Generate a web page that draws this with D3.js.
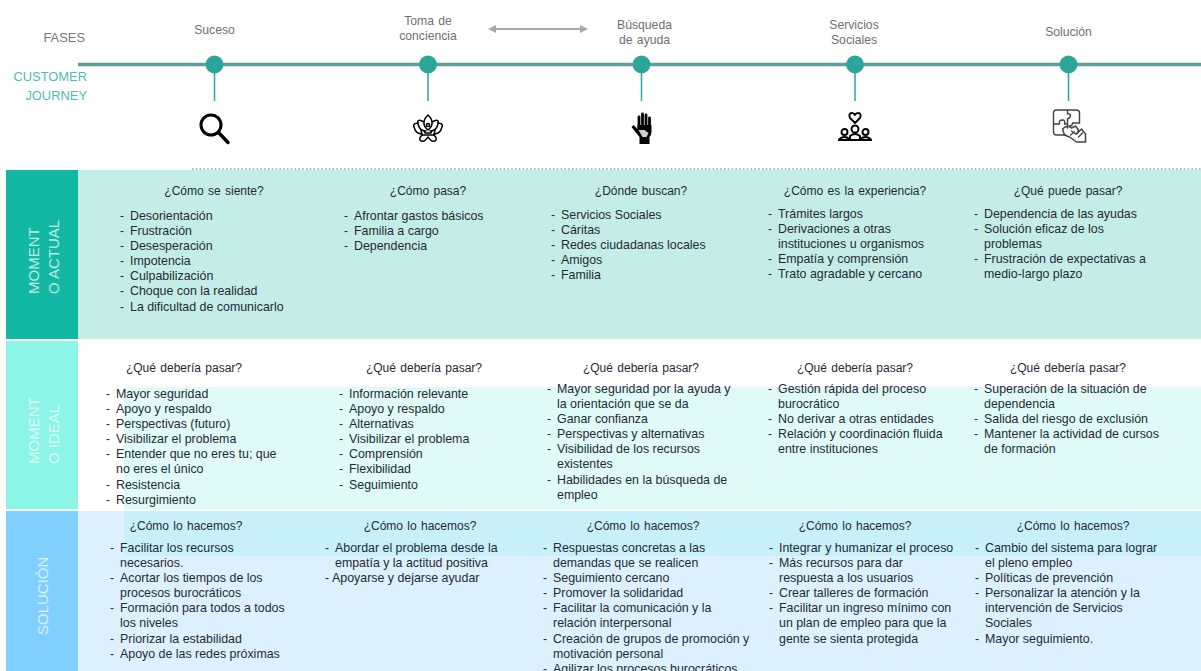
<!DOCTYPE html>
<html lang="es">
<head>
<meta charset="utf-8">
<title>Customer journey</title>
<script src="https://cdnjs.cloudflare.com/ajax/libs/d3/7.8.5/d3.min.js"></script>
<style>
  html, body { margin: 0; padding: 0; background: #fff; overflow: hidden; }
  svg { display: block; }
  text { font-family: "Liberation Sans", Arial, sans-serif; }
</style>
</head>
<body>
<script>
'use strict';

// Data
const phases = ['Suceso', 'Toma de\nconciencia', 'Búsqueda\nde ayuda', 'Servicios\nSociales', 'Solución'];

const rowNames = ['MOMENT\nO ACTUAL', 'MOMENT\nO IDEAL', 'SOLUCIÓN'];

const actualTitles = ['¿Cómo se siente?', '¿Cómo pasa?', '¿Dónde buscan?', '¿Cómo es la experiencia?', '¿Qué puede pasar?'];
const idealTitles = ['¿Qué debería pasar?', '¿Qué debería pasar?', '¿Qué debería pasar?', '¿Qué debería pasar?', '¿Qué debería pasar?'];
const solucionTitles = ['¿Cómo lo hacemos?', '¿Cómo lo hacemos?', '¿Cómo lo hacemos?', '¿Cómo lo hacemos?', '¿Cómo lo hacemos?'];

const actualItems = [
  ['Desorientación', 'Frustración', 'Desesperación', 'Impotencia', 'Culpabilización', 'Choque con la realidad', 'La dificultad de comunicarlo'],
  ['Afrontar gastos básicos', 'Familia a cargo', 'Dependencia'],
  ['Servicios Sociales', 'Cáritas', 'Redes ciudadanas locales', 'Amigos', 'Familia'],
  ['Trámites largos', 'Derivaciones a otras\ninstituciones u organismos', 'Empatía y comprensión', 'Trato agradable y cercano'],
  ['Dependencia de las ayudas', 'Solución eficaz de los\nproblemas', 'Frustración de expectativas a\nmedio-largo plazo']
];

const idealItems = [
  ['Mayor seguridad', 'Apoyo y respaldo', 'Perspectivas (futuro)', 'Visibilizar el problema', 'Entender que no eres tu; que\nno eres el único', 'Resistencia', 'Resurgimiento'],
  ['Información relevante', 'Apoyo y respaldo', 'Alternativas', 'Visibilizar el problema', 'Comprensión', 'Flexibilidad', 'Seguimiento'],
  ['Mayor seguridad por la ayuda y\nla orientación que se da', 'Ganar confianza', 'Perspectivas y alternativas', 'Visibilidad de los recursos\nexistentes', 'Habilidades en la búsqueda de\nempleo'],
  ['Gestión rápida del proceso\nburocrático', 'No derivar a otras entidades', 'Relación y coordinación fluida\nentre instituciones'],
  ['Superación de la situación de\ndependencia', 'Salida del riesgo de exclusión', 'Mantener la actividad de cursos\nde formación']
];

const solucionItems = [
  ['Facilitar los recursos\nnecesarios.', 'Acortar los tiempos de los\nprocesos burocráticos', 'Formación para todos a todos\nlos niveles', 'Priorizar la estabilidad', 'Apoyo de las redes próximas'],
  ['Abordar el problema desde la\nempatía y la actitud positiva', 'Apoyarse y dejarse ayudar'],
  ['Respuestas concretas a las\ndemandas que se realicen', 'Seguimiento cercano', 'Promover la solidaridad', 'Facilitar la comunicación y la\nrelación interpersonal', 'Creación de grupos de promoción y\nmotivación personal', 'Agilizar los procesos burocráticos'],
  ['Integrar y humanizar el proceso', 'Más recursos para dar\nrespuesta a los usuarios', 'Crear talleres de formación', 'Facilitar un ingreso mínimo con\nun plan de empleo para que la\ngente se sienta protegida'],
  ['Cambio del sistema para lograr\nel pleno empleo', 'Políticas de prevención', 'Personalizar la atención y la\nintervención de Servicios\nSociales', 'Mayor seguimiento.']
];

// Layout
const width = 1201;
const height = 671;
const lineH = 15.15;

const rows = [
  {
    top: 170, bottom: 339, side: '#12b8a3', panel: '#c4ede8',
    titles: actualTitles, items: actualItems, titleY: 190.5,
    titleX: [214, 428, 641, 855, 1068],
    textX: [130, 354, 561, 778, 984],
    firstY: [216, 216, 215, 214, 214],
    nameX: [39, 59], nameY: 294
  },
  {
    top: 341, bottom: 509, side: '#8cf6e6', panel: '#ffffff',
    band: { x: 124, y0: 387, y1: 509, fill: '#e0fbf7' },
    titles: idealTitles, items: idealItems, titleY: 367.5,
    titleX: [184, 424, 641, 855, 1068],
    textX: [116, 349, 557, 778, 984],
    firstY: [394, 394, 389, 389, 389],
    nameX: [39, 59], nameY: 464
  },
  {
    top: 511, bottom: 671, side: '#80cfff', panel: '#dcf1fd',
    band: { x: 124, y0: 511, y1: 556, fill: '#c8f0f9' },
    titles: solucionTitles, items: solucionItems, titleY: 525.5,
    titleX: [186, 420, 643, 855, 1073],
    textX: [120, 335, 553, 779, 985],
    firstY: [548, 548, 548, 548, 548],
    nameX: [48], nameY: 635
  }
];

// Phase label tweaks, the source slide is not quite regular
const phaseLabelY = [34, 25, 29, 29, 36];
const phaseLabelDx = [0, 0, 3, -1, 0];
const tightItems = ['Apoyarse y dejarse ayudar'];

const svg = d3.select('body').append('svg')
  .attr('width', width)
  .attr('height', height)
  .attr('viewBox', `0 0 ${width} ${height}`);

// Phase positions
const phaseX = d3.scaleLinear().domain([0, phases.length - 1]).range([214.5, 1068.5]);

// Row backgrounds
const rowG = svg.selectAll('g.row').data(rows).enter().append('g').attr('class', 'row');

rowG.append('rect')
  .attr('x', 78).attr('y', d => d.top)
  .attr('width', width - 78).attr('height', d => d.bottom - d.top)
  .attr('fill', d => d.panel);

rowG.filter(d => d.band).append('rect')
  .attr('x', d => d.band.x).attr('y', d => d.band.y0)
  .attr('width', d => width - d.band.x).attr('height', d => d.band.y1 - d.band.y0)
  .attr('fill', d => d.band.fill);

rowG.append('rect')
  .attr('x', 6).attr('y', d => d.top)
  .attr('width', 72).attr('height', d => d.bottom - d.top)
  .attr('fill', d => d.side);

// Rotated row names
rowG.each(function (d, i) {
  d3.select(this).selectAll('text.name').data(rowNames[i].split('\n')).enter().append('text')
    .attr('class', 'name')
    .attr('transform', (_d, j) => `translate(${d.nameX[j]},${d.nameY}) rotate(-90)`)
    .attr('fill', 'rgba(255,255,255,0.72)')
    .style('font-size', '15px')
    .text(p => p);
});

// Cell text
rowG.each(function (row) {
  const g = d3.select(this);

  g.selectAll('text.title').data(row.titles).enter().append('text')
    .attr('class', 'title')
    .attr('x', (_d, i) => row.titleX[i])
    .attr('y', row.titleY + 4)
    .attr('text-anchor', 'middle')
    .attr('fill', '#1f2a36')
    .style('font-size', '12px')
    .style('word-spacing', '1px')
    .text(d => d);

  row.items.forEach((list, col) => {
    let y = row.firstY[col] + 3.7;
    list.forEach(item => {
      const tight = tightItems.includes(item) ? 3 : 0;
      g.append('text')
        .attr('x', row.textX[col] - 10).attr('y', y)
        .attr('fill', '#1f2a36').style('font-size', '12px')
        .text('-');
      item.split('\n').forEach(line => {
        g.append('text')
          .attr('x', row.textX[col] - tight).attr('y', y)
          .attr('fill', '#1f2a36').style('font-size', '12.4px')
          .text(line);
        y += lineH;
      });
    });
  });
});

// Dotted rule above the table
svg.append('line')
  .attr('x1', 192).attr('x2', width).attr('y1', 169).attr('y2', 169)
  .attr('stroke', '#999').attr('stroke-width', 1.5).attr('stroke-dasharray', '1.5 2.3');

// Side labels
const sideLabels = [
  { t: 'FASES', x: 85, y: 42, fill: '#777777' },
  { t: 'CUSTOMER', x: 87, y: 81, fill: '#4fbdb6' },
  { t: 'JOURNEY', x: 87, y: 100, fill: '#4fbdb6' }
];
svg.selectAll('text.side').data(sideLabels).enter().append('text')
  .attr('class', 'side')
  .attr('x', d => d.x).attr('y', d => d.y)
  .attr('text-anchor', 'end')
  .attr('fill', d => d.fill)
  .style('font-size', '12.9px')
  .text(d => d.t);

// Timeline
svg.append('line')
  .attr('x1', 78).attr('x2', width).attr('y1', 64.5).attr('y2', 64.5)
  .attr('stroke', '#5f9e98').attr('stroke-width', 3.5);

const phaseG = svg.selectAll('g.phase').data(phases).enter().append('g')
  .attr('class', 'phase')
  .attr('transform', (_d, i) => `translate(${phaseX(i)},0)`);

phaseG.append('line')
  .attr('y1', 64).attr('y2', 101)
  .attr('stroke', '#2ca59b').attr('stroke-width', 1.5);

phaseG.append('circle')
  .attr('cy', 64.5).attr('r', 9)
  .attr('fill', '#2ca59b');

phaseG.each(function (d, i) {
  d3.select(this).selectAll('text').data(d.split('\n')).enter().append('text')
    .attr('x', phaseLabelDx[i])
    .attr('y', (_p, j) => phaseLabelY[i] + j * lineH)
    .attr('text-anchor', 'middle')
    .attr('fill', '#6f6f6f')
    .style('font-size', '12.2px')
    .style('word-spacing', '1px')
    .text(p => p);
});

// Double arrow between phases
svg.append('line')
  .attr('x1', 492).attr('x2', 584).attr('y1', 29).attr('y2', 29)
  .attr('stroke', '#a8a8a8').attr('stroke-width', 2);
svg.append('path').attr('d', 'M488,29 L496,25 L496,33 Z').attr('fill', '#a8a8a8');
svg.append('path').attr('d', 'M588,29 L580,25 L580,33 Z').attr('fill', '#a8a8a8');

// Icons
const iconG = svg.append('g').attr('fill', 'none').attr('stroke', '#000').attr('stroke-linecap', 'round').attr('stroke-linejoin', 'round');

// Magnifier
const loupe = iconG.append('g').attr('transform', `translate(${phaseX(0)},128)`);
loupe.append('circle').attr('cx', -3.5).attr('cy', -3).attr('r', 10).attr('stroke-width', 3);
loupe.append('line').attr('x1', 4).attr('y1', 4.5).attr('x2', 13.5).attr('y2', 14.5).attr('stroke-width', 3.4);

// Lotus
const lotus = iconG.append('g').attr('transform', `translate(${phaseX(1)},129)`).attr('stroke-width', 1.5);
lotus.append('path').attr('d', 'M0,-14 C-5,-9 -6,-4 0,1 C6,-4 5,-9 0,-14 Z');
lotus.append('path').attr('d', 'M-4,-7 C-9,-10 -11,-9 -10,-5 C-9,-1 -6,2 -2,2');
lotus.append('path').attr('d', 'M4,-7 C9,-10 11,-9 10,-5 C9,-1 6,2 2,2');
lotus.append('path').attr('d', 'M-10,-6 C-14,-6 -15,-4 -14,-2 C-13,2 -10,5 -6,5');
lotus.append('path').attr('d', 'M10,-6 C14,-6 15,-4 14,-2 C13,2 10,5 6,5');
lotus.append('path').attr('d', 'M-7,1 L-6,6 L6,6 L7,1 M-4,2 L-3,4 L3,4 L4,2');
lotus.append('path').attr('d', 'M-6,6 C-10,10 -8,13 -4,12 C-2,11 -1,9 0,8 C1,9 2,11 4,12 C8,13 10,10 6,6');
lotus.append('circle').attr('cx', 0).attr('cy', -4).attr('r', 1.6);

// Raised hand
const hand = svg.append('g').attr('transform', `translate(${phaseX(2)},128)`);
hand.selectAll('line').data([-2.5, 1, 4.5, 8]).enter().append('line')
  .attr('x1', d => d).attr('x2', d => d)
  .attr('y1', (_d, i) => [-11, -14, -13, -10][i]).attr('y2', 0)
  .attr('stroke', '#000').attr('stroke-width', 2.8).attr('stroke-linecap', 'round');
hand.append('path')
  .attr('fill', '#000')
  .attr('d', 'M-4,-3 L-4,1 L-8,-3 L-10,-1 L-2,9 L-2,16 L8,16 L8,9 Q10,7 10,4 L10,-3 Z');
hand.append('path').attr('fill', '#cfcfcf').attr('d', 'M-3,2 L3,2 L7,5 L5,9 L1,9 Z');

// People with heart
const people = iconG.append('g').attr('transform', `translate(${phaseX(3)},126)`).attr('stroke-width', 1.9);
people.append('path').attr('d', 'M0,-3 L-5,-8 Q-7,-13 -3,-13 Q-1,-13 0,-11 Q1,-13 3,-13 Q7,-13 5,-8 Z');
[[-10.5, 6, 3], [0, 3, 3.5], [10.5, 6, 3]].forEach(p => {
  people.append('circle').attr('cx', p[0]).attr('cy', p[1]).attr('r', p[2]);
  people.append('path').attr('d', `M${p[0] - 5},14 L${p[0] - 5},${p[1] + 7} Q${p[0]},${p[1] + 3} ${p[0] + 5},${p[1] + 7} L${p[0] + 5},14`);
});
people.append('line').attr('x1', -16).attr('x2', 16).attr('y1', 14).attr('y2', 14).attr('stroke-width', 2.2);

// Puzzle with hand
const puzzle = iconG.append('g').attr('transform', `translate(${phaseX(4)},126)`).attr('stroke', '#444').attr('stroke-width', 1.4);
puzzle.append('path').attr('d', 'M-3,9 L-12,9 Q-15,9 -15,6 L-15,-13 Q-15,-16 -12,-16 L8,-16 Q11,-16 11,-13 L11,-3');
puzzle.append('path').attr('d', 'M-15,-2 L-9,-2 Q-10,-6 -6,-6 Q-3,-6 -4,-2 L-1,-2 L-1,-7 Q2,-8 2,-11 Q0,-13 -1,-12 L-1,-16');
puzzle.append('path').attr('d', 'M-1,-2 L-1,2 M11,-3 L4,-3 Q4,0 1,0');
puzzle.append('path').attr('d', 'M-6,3 Q-1,-2 3,2 L7,0 L10,4 L8,8 L13,3 L17,8 L17,16 L8,16 L1,11 L-4,9 Z').attr('stroke-width', 1.5);
puzzle.append('path').attr('d', 'M3,5 L7,8 M2,9 L6,6 M10,11 L14,7');
</script>
</body>
</html>
